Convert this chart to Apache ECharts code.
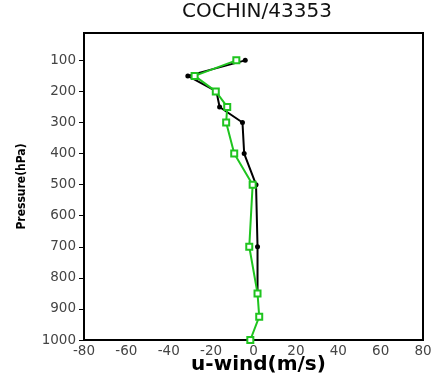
<!DOCTYPE html>
<html><head><meta charset="utf-8">
<script src="https://cdn.jsdelivr.net/npm/echarts@6/dist/echarts.min.js"></script>
<style>html,body{margin:0;padding:0;background:#fff}#c{width:431px;height:379px}</style>
</head><body><div id="c"></div>
<script>
const title = 'COCHIN/43353';
const yTicks = [100,200,300,400,500,600,700,800,900,1000];
const xTicks = [-80,-60,-40,-20,0,20,40,60,80];
const blackLevels = [100,150,200,250,300,400,500,700,850];
const blackU = [-3.9,-31,-17.5,-16,-5.2,-4.4,1.2,1.9,1.9];
const greenLevels = [100,150,200,250,300,400,500,700,850,925,1000];
const greenU = [-8.1,-27.8,-17.8,-12.4,-12.9,-9.1,-0.4,-2,1.9,2.7,-1.5];

const pairs = (u, p) => u.map((v, i) => [v, p[i]]);
const chart = echarts.init(document.getElementById('c'), null, {renderer: 'canvas'});
const lbl = {color: '#444', fontSize: 13.5, fontFamily: 'DejaVu Sans', formatter: v => String(v)};
chart.setOption({
  animation: false,
  title: {text: title, left: 182, top: 1, padding: 0, textStyle: {fontFamily: 'DejaVu Sans', fontWeight: 'normal', fontSize: 20, lineHeight: 22, color: '#111'}},
  grid: {left: 84, right: 8, top: 33, bottom: 39, show: true, borderColor: '#000', borderWidth: 2, outerBoundsMode: 'none', containLabel: false},
  xAxis: {type: 'value', min: -80, max: 80, interval: 20,
    axisLine: {onZero: false, lineStyle: {color: '#000', width: 2}}, axisTick: {show: false}, splitLine: {show: false},
    axisLabel: Object.assign({margin: 4, customValues: xTicks}, lbl),
    name: 'u-wind(m/s)', nameLocation: 'middle', nameGap: 16, nameMoveOverlap: false,
    nameTextStyle: {fontFamily: 'DejaVu Sans', fontWeight: 'bold', fontSize: 20, lineHeight: 18, color: '#000', padding: [0,0,0,10]}},
  yAxis: {type: 'value', inverse: true, min: 12, max: 1000,
    axisLine: {onZero: false, lineStyle: {color: '#000', width: 2}},
    axisTick: {show: true, length: 5, lineStyle: {color: '#000'}, customValues: yTicks},
    splitLine: {show: false},
    axisLabel: Object.assign({margin: 8, customValues: yTicks}, lbl),
    name: 'Pressure(hPa)', nameLocation: 'middle', nameGap: 56, nameRotate: 90, nameMoveOverlap: false,
    nameTextStyle: {fontFamily: "'DejaVu Sans Condensed', 'Liberation Sans', sans-serif", fontWeight: 'bold', fontSize: 12, color: '#000'}},
  series: [
    {type: 'line', data: pairs(blackU, blackLevels), symbol: 'circle', symbolSize: 5,
      lineStyle: {color: '#000', width: 2}, itemStyle: {color: '#000'}, z: 2},
    {type: 'line', data: pairs(greenU, greenLevels), symbol: 'rect', symbolSize: 6,
      lineStyle: {color: '#1fc41f', width: 2}, itemStyle: {color: '#fff', borderColor: '#1fc41f', borderWidth: 2}, z: 3}
  ]
});
</script></body></html>
